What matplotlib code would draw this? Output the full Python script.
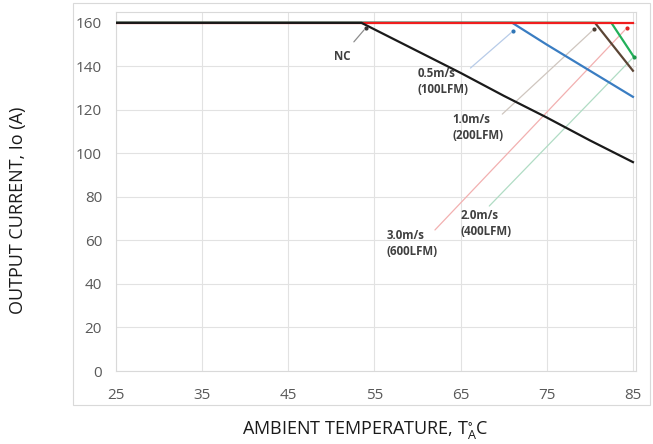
import matplotlib
matplotlib.use("Agg")
import matplotlib.pyplot as plt
from matplotlib.patches import Rectangle

plt.rcParams['font.family'] = ['Open Sans', 'DejaVu Sans']

# derating curves: ambient temp (C) vs output current (A)
nc_t = [25, 53.5, 60, 65, 70, 75, 80, 85]
nc_i = [160, 160, 147, 137, 126.5, 116.5, 106, 96]

v05_t = [25, 71, 75, 80, 85]
v05_i = [160, 160, 150, 138, 126]

v10_t = [25, 80.6, 85]
v10_i = [160, 160, 138]

v20_t = [25, 82.5, 85]
v20_i = [160, 160, 145]

v30_t = [25, 85]
v30_i = [160, 160]

xticks = [25, 35, 45, 55, 65, 75, 85]
yticks = [0, 20, 40, 60, 80, 100, 120, 140, 160]

# label text, text pos, arrow tip, leader colour, tip colour
notes = [
    ("NC", (51.3, 144.4), (54.0, 157.7), "#8c8c8c", "#333333", "center"),
    ("0.5m/s\n(100LFM)", (60.0, 132.9), (71.1, 156.3), "#b7cbe8", "#2e75b6", "left"),
    ("1.0m/s\n(200LFM)", (64.0, 111.7), (80.5, 157.2), "#cfc6bf", "#4a3b30", "left"),
    ("2.0m/s\n(400LFM)", (65.0, 67.6), (85.1, 144.4), "#b0dcc4", "#1a9a4a", "left"),
    ("3.0m/s\n(600LFM)", (56.4, 58.4), (84.3, 157.7), "#f2b0b0", "#e02020", "left"),
]
leader_start = [(52.4, 150.3), (65.9, 138.4), (69.6, 117.2), (68.1, 74.9), (61.8, 63.9)]

fig = plt.figure(figsize=(6.53, 4.44), dpi=100)
ax = fig.add_axes([0.1776, 0.1644, 0.7963, 0.8086])

# outer chart border
fig.patches.append(Rectangle((73/653, 1-405/444), 577/653, 402/444,
                             transform=fig.transFigure, fill=False,
                             edgecolor="#d9d9d9", linewidth=0.8))

ax.plot(v05_t, v05_i, color="#3a7dc2", lw=1.6, zorder=3)
ax.plot(v10_t, v10_i, color="#5b4535", lw=1.6, zorder=3)
ax.plot(v20_t, v20_i, color="#22b05a", lw=1.6, zorder=3)
ax.plot(v30_t, v30_i, color="#f01e1e", lw=1.6, zorder=4)
ax.plot(nc_t, nc_i, color="#1a1a1a", lw=1.6, zorder=5)

for (txt, tpos, tip, lc, dc, ha), st in zip(notes, leader_start):
    ax.annotate("", xy=tip, xytext=st,
                arrowprops=dict(arrowstyle="-", color=lc, lw=0.9), zorder=2)
    ax.plot([tip[0]], [tip[1]], "o", ms=2.0, color=dc, zorder=6)
    ax.text(tpos[0], tpos[1], txt, ha=ha, va="center", fontsize=8.3,
            fontweight="bold", color="#404040", linespacing=1.3, zorder=6)

ax.set_xlim(25, 85.35)
ax.set_ylim(0, 165)
ax.set_xticks(xticks)
ax.set_yticks(yticks)
ax.grid(True, color="#e2e2e2", lw=0.8)
ax.set_axisbelow(True)
for s in ax.spines.values():
    s.set_color("#d9d9d9")
    s.set_linewidth(0.8)
ax.tick_params(axis="both", length=0, labelsize=11, colors="#595959")
ax.tick_params(axis="x", pad=12)
ax.tick_params(axis="y", pad=10)

fig.text(365/653, 1-430/444, r"AMBIENT TEMPERATURE, T$_{\mathregular{A}}^{\mathregular{\circ}}$C",
         ha="center", va="center", fontsize=13, color="#1a1a1a")
fig.text(18/653, 1-210/444, "OUTPUT CURRENT, Io (A)", rotation=90,
         ha="center", va="center", fontsize=13, color="#1a1a1a")

plt.savefig("out.png", dpi=100)
